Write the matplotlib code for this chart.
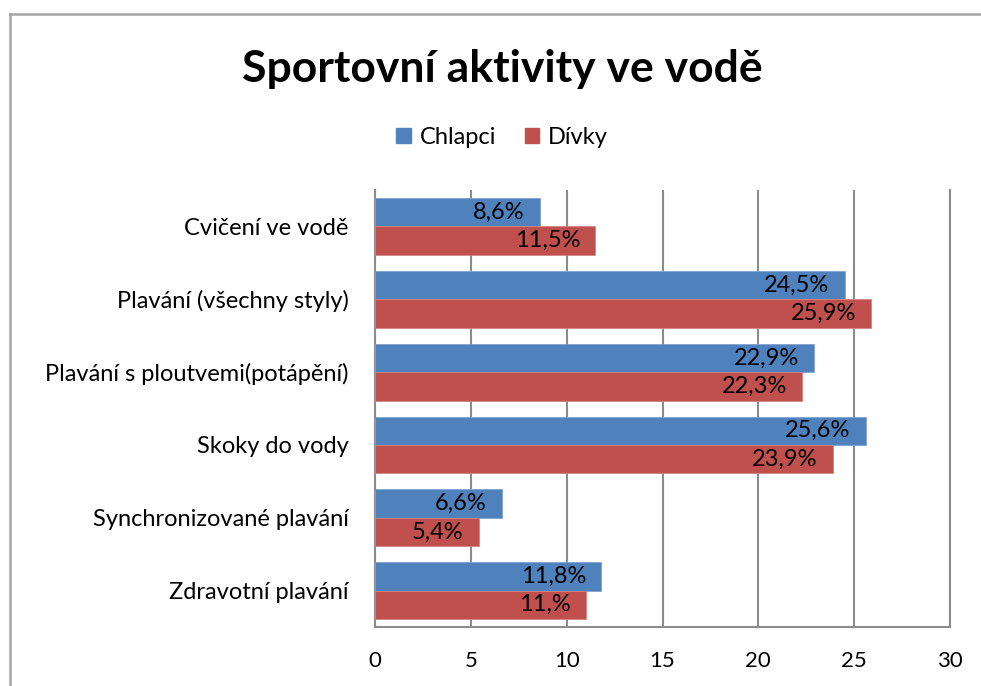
# Sportovní aktivity ve vodě - horizontal grouped bar chart

import numpy as np
import matplotlib.pyplot as plt
from matplotlib.lines import Line2D
from matplotlib.patches import Patch

# -------------------------------
# 1. DATA
# -------------------------------
categories = [
    "Cvičení ve vodě",
    "Plavání (všechny styly)",
    "Plavání s ploutvemi(potápění)",
    "Skoky do vody",
    "Synchronizované plavání",
    "Zdravotní plavání",
]
chlapci = [8.6, 24.5, 22.9, 25.6, 6.6, 11.8]
divky = [11.5, 25.9, 22.3, 23.9, 5.4, 11.0]
chlapci_labels = ["8,6%", "24,5%", "22,9%", "25,6%", "6,6%", "11,8%"]
divky_labels = ["11,5%", "25,9%", "22,3%", "23,9%", "5,4%", "11,%"]
x_ticks = [0, 5, 10, 15, 20, 25, 30]

BLUE = "#4F81BD"
RED = "#C0504D"
GRID = "#8C8C8C"

# -------------------------------
# 2. FIGURE
# -------------------------------
plt.rcParams["font.family"] = ["Lato", "DejaVu Sans"]

fig = plt.figure(figsize=(9.81, 6.86), dpi=100)
ax = fig.add_axes([0.3823, 0.086, 0.5861, 0.637])

y = np.arange(len(categories))
h = 0.39

ax.barh(y - h / 2, chlapci, height=h, color=BLUE, edgecolor="#7FA3D0", linewidth=0.6, zorder=3)
ax.barh(y + h / 2, divky, height=h, color=RED, edgecolor="#D58583", linewidth=0.6, zorder=3)

# data labels, inside end of each bar
for yi, v, lab in zip(y, chlapci, chlapci_labels):
    ax.annotate(lab, xy=(v, yi - h / 2), xytext=(-11, 0), textcoords="offset points",
                ha="right", va="center", fontsize=17, color="black", zorder=4)
for yi, v, lab in zip(y, divky, divky_labels):
    ax.annotate(lab, xy=(v, yi + h / 2), xytext=(-11, 0), textcoords="offset points",
                ha="right", va="center", fontsize=17, color="black", zorder=4)

ax.set_ylim(len(categories) - 0.5, -0.5)
ax.set_xlim(0, 30)
ax.set_xticks(x_ticks)
ax.set_xticklabels([str(t) for t in x_ticks], fontsize=16)
ax.set_yticks(y)
ax.set_yticklabels(categories, fontsize=17)
ax.tick_params(axis="y", length=0, pad=19)
ax.tick_params(axis="x", length=0, pad=17)

ax.xaxis.grid(True, color=GRID, linewidth=1.5, zorder=0)
ax.set_axisbelow(True)
ax.spines["top"].set_visible(False)
for s in ["left", "bottom", "right"]:
    ax.spines[s].set_color(GRID)
    ax.spines[s].set_linewidth(1.5)

# title + legend
fig.text(0.512, 0.899, "Sportovní aktivity ve vodě", ha="center", va="center",
         fontsize=32, fontweight="bold")
handles = [Patch(color=BLUE, label="Chlapci"), Patch(color=RED, label="Dívky")]
fig.legend(handles=handles, loc="center", bbox_to_anchor=(0.512, 0.800), ncol=2,
           frameon=False, fontsize=17, handlelength=0.6, handleheight=0.6,
           handletextpad=0.4, columnspacing=1.2)

# outer chart border (cropped on right and bottom)
fig.add_artist(Line2D([10 / 981, 1.0], [1 - 14 / 686, 1 - 14 / 686], color="#A6A6A6", linewidth=1.8))
fig.add_artist(Line2D([10 / 981, 10 / 981], [0.0, 1 - 14 / 686], color="#A6A6A6", linewidth=1.8))

plt.savefig("out.png", dpi=100)
